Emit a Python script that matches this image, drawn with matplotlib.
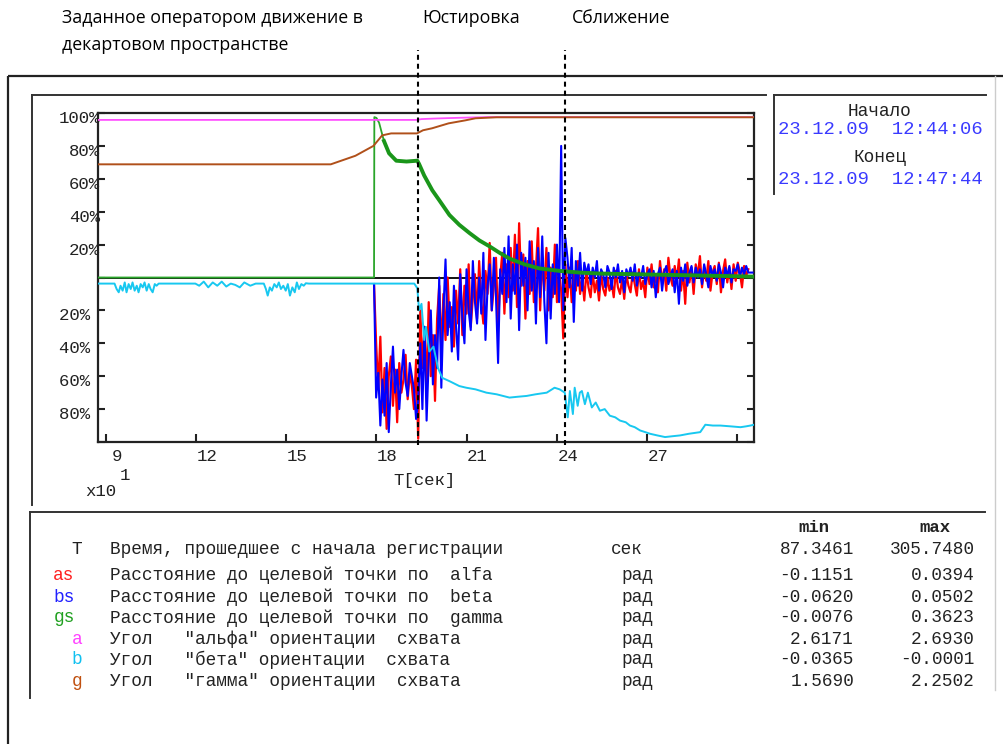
import numpy as np
import matplotlib
matplotlib.use('Agg')
import matplotlib.pyplot as plt
from matplotlib.transforms import ScaledTranslation

plt.rcParams['font.family'] = ['Liberation Mono', 'DejaVu Sans Mono']

# time is in units of 10 s (axis multiplier x10^1), values in % of range
t_min, t_max = 8.73, 30.57
phase_t = [19.37, 24.28]          # Юстировка / Сближение markers

x_ticks = [9, 12, 15, 18, 21, 24, 27, 30]
x_labels = ['9', '12', '15', '18', '21', '24', '27', '']
y_ticks = [100, 80, 60, 40, 20, 0, -20, -40, -60, -80, -100]
y_labels = ['100%', '80%', '60%', '40%', '20%', '',
            '20% ', '40% ', '60% ', '80% ', '']

# a - angle alfa (magenta)
a_t = [8.73, 19.35, 19.5, 19.9, 20.4, 21.0, 21.7, 30.57]
a_y = [95.8, 95.8, 96.3, 96.6, 96.9, 97.2, 97.5, 97.5]

# g - angle gamma (brown)
g_t = [8.73, 16.48, 17.3, 17.9, 18.19, 18.49, 19.35, 19.55, 19.85,
       20.4, 20.95, 21.3, 22.0, 30.57]
g_y = [68.8, 68.8, 74, 80, 86.4, 87.6, 87.6, 89.5, 90.7,
       93.7, 95.5, 96.8, 97.4, 97.4]

# gs - distance by gamma (green)
gs_t = [8.73, 17.92, 17.93, 18.0, 18.09, 18.25, 18.42, 18.66, 19.0, 19.36,
        19.42, 19.59, 19.86, 20.09, 20.43, 20.76, 21.10, 21.43, 21.76, 22.10,
        22.43, 22.93, 23.43, 24.10, 24.77, 25.44, 27.11, 28.78, 30.45, 30.57]
gs_y = [0, 0, 97.5, 97, 94, 83, 75.5, 71, 70.5, 71,
        69, 62, 53, 47, 38, 32, 27, 22.5, 19, 15,
        11.5, 8, 5.5, 4, 3, 2.4, 1.8, 1.2, 0.6, 0.5]

# b - angle beta (cyan)
b_t = ([8.73,
        9.28, 9.35, 9.42, 9.48, 9.55, 9.62, 9.68, 9.75, 9.82, 9.88, 9.95, 10.02,
        10.08, 10.15, 10.22, 10.28, 10.35, 10.42, 10.48, 10.55, 10.62, 10.68, 10.75,
        11.97, 12.1, 12.25, 12.4, 12.55, 12.7, 12.85, 13.0, 13.15, 13.3, 13.45,
        13.6, 13.8, 13.98,
        14.25, 14.32, 14.38, 14.45, 14.52, 14.6, 14.68, 14.75, 14.82, 14.9, 14.98,
        15.05, 15.12, 15.2, 15.28, 15.35, 15.42, 15.5, 15.58, 15.65, 15.75,
        19.26, 19.36, 19.42, 19.5, 19.59, 19.65, 19.76, 19.9, 20.05, 20.19,
        20.43, 20.76, 20.99, 21.3, 21.66, 22.0, 22.43, 22.7, 23.0, 23.3, 23.67,
        23.93, 24.1, 24.27, 24.37, 24.44, 24.54, 24.6, 24.7, 24.77, 24.84, 24.94,
        25.04, 25.17, 25.3, 25.44, 25.6, 25.77, 25.95, 26.11, 26.3, 26.44, 26.6,
        26.78, 26.95, 27.11, 27.35, 27.61, 27.85, 28.11, 28.4, 28.78, 28.95,
        29.2, 29.45, 29.8, 30.12, 30.3, 30.45, 30.57])
b_y = ([-3.7,
        -3.7, -7, -9, -5, -8, -3, -9, -4, -7, -3, -8, -5,
        -9, -4, -6, -3, -8, -4, -7, -9, -4, -5, -3.7,
        -3.7, -5, -2.5, -6, -3, -5, -2.5, -5.5, -3.7, -4.5, -6,
        -3, -5, -3.7,
        -3.7, -7, -11, -6, -8, -4, -6, -3, -7, -5, -8,
        -4, -11, -6, -9, -3, -7, -4, -5, -3.5, -3.7,
        -3.7, -6.5, -20, -16, -38, -30, -45, -42, -55, -61,
        -63, -66, -67, -68, -70, -71, -73, -72.5, -72, -71, -70,
        -67, -68, -70, -85, -69, -83, -67, -78, -70, -69, -77,
        -70, -79, -76, -81, -80, -84, -85, -87, -88, -90, -91,
        -93, -94, -95, -96, -97, -96.5, -96, -95, -94, -89.5,
        -90, -90, -90.5, -91, -90.5, -90, -89.5])

# as / bs - distances by alfa / beta (red / blue), sampled every 0.07 from 17.92
noise_t0, noise_dt = 17.92, 0.07
as_vals = ([-4] +
           [-40, -68, -36, -82, -55, -92, -60, -48, -78, -56, -88, -52, -70, -62,
            -47, -74, -58, -66, -80, -50, -98] +
           [-20, -55, -30, -70, -15, -60, -35, -75, -25, -5,
            -45, -10, -38, 0, -30, -18, -42, -8, -28, 5,
            -35, -5, -22, 8, -30, -12, 2, -25, 10, -15,
            -28, 4, -10, 21, -20, -5, 12, -30, 0, 15,
            -22, 8, -12, 18, -8, 26, -18, 33, -5, 14,
            -25, 10, -10, 22, -15, 5, 30, -20, 12, -8,
            18, -20, 6, -12, 20, -15, 4, -8, -37, 8] +
           [-12, 6, -15, 2, -8, 10, -10, 0, -14, 4,
            -6, -12, 3, -9, -2, -14, 2, -7, -11, 0,
            -8, -3, -12, 4, -6, -10, -1, -13, 2, -5,
            -9, 3, -4, -11, 5, -7, -2, -12, 6, -4,
            8, -6, 2, -9, 10, -3, 5, -8, 12, 0,
            -5, 7, -2, 11, -8, 4, -16, 9, -3, 6,
            -10, 8, 1, 13, -6, 5, -2, 10, -8, 3,
            7, -4, 9, -9, 4, 11, -3, 6, -7, 8,
            -2, 9, 3, -6, 7, 1, 5])
bs_vals = ([-4] +
           [-73, -58, -90, -62, -84, -52, -94, -66, -42, -70, -56, -80, -60, -44,
            -64, -72, -52, -60, -68, -86, -75] +
           [-40, -80, -30, -87, -50, -20, -65, -35, -55, 0,
            -67, -20, 11, -35, -15, -45, -5, -30, -50, 2,
            -25, -40, 5, -20, -32, 10, -15, -28, 0, -22,
            15, -38, -5, 8, -20, 12, -12, -52, 5, -10,
            18, -15, 25, -25, 8, -10, 20, -32, 15, -5,
            12, -20, 22, -8, 10, -28, 18, -12, 25, -15,
            -40, 15, -25, 8, -10, 20, -15, 80, -20, 24] +
           [12, -6, 18, -27, 10, -5, 15, -8, 9, 2,
            8, -4, 6, 0, 10, -8, 5, 2, -6, 7,
            3, -7, 6, 0, 8, -3, 4, -9, 5, 1,
            6, -2, 8, -5, 3, 0, 7, -4, 2, 5,
            -6, 4, -12, 2, 6, -8, 3, 7, -4, 1,
            5, -9, 4, -16, 6, -2, 8, -5, 3, 7,
            -3, 6, 0, 5, -4, 8, 2, -6, 7, 1,
            5, -2, 8, 3, -6, 6, 1, 7, -3, 5,
            4, 8, 0, 6, 2, 7, 3, 3, 3])

# legend table
codes = ['T', 'as', 'bs', 'gs', 'a', 'b', 'g']
code_colors = ['#202020', '#ff2020', '#2020ff', '#20a020', '#ff40ff', '#10c0f0', '#c05010']
descs = ['Время, прошедшее с начала регистрации',
         'Расстояние до целевой точки по  alfa',
         'Расстояние до целевой точки по  beta',
         'Расстояние до целевой точки по  gamma',
         'Угол   "альфа" ориентации  схвата',
         'Угол   "бета" ориентации  схвата',
         'Угол   "гамма" ориентации  схвата']
units = ['сек', 'рад', 'рад', 'рад', 'рад', 'рад', 'рад']
mins = [87.3461, -0.1151, -0.0620, -0.0076, 2.6171, -0.0365, 1.5690]
maxs = [305.7480, 0.0394, 0.0502, 0.3623, 2.6930, -0.0001, 2.2502]

start_date, end_date = '23.12.09  12:44:06', '23.12.09  12:47:44'

W, H = 1004, 744
fig = plt.figure(figsize=(W / 100, H / 100), dpi=100)

# overlay in pixel coordinates for frames and free text
ov = fig.add_axes([0, 0, 1, 1])
ov.set_xlim(0, W)
ov.set_ylim(H, 0)
ov.axis('off')

frame = dict(color='#222222', lw=1.6, solid_capstyle='butt')
ov.plot([8, 1004], [76, 76], **frame)
ov.plot([8, 8], [76, 744], **frame)
ov.plot([32, 766], [95, 95], color='#333333', lw=1.4)
ov.plot([32, 32], [95, 505], color='#333333', lw=1.4)
ov.plot([774, 986], [95, 95], color='#333333', lw=1.4)
ov.plot([774, 774], [95, 194], color='#333333', lw=1.4)
ov.plot([30, 985], [512, 512], color='#333333', lw=1.4)
ov.plot([30, 30], [512, 698], color='#333333', lw=1.4)
ov.plot([995, 995], [76, 690], color='#cccccc', lw=1.0)

sans = ['Open Sans', 'DejaVu Sans']
ov.text(62, 18, 'Заданное оператором движение в', family=sans, fontsize=12.8, va='center')
ov.text(62, 45, 'декартовом пространстве', family=sans, fontsize=12.8, va='center')
ov.text(422, 18, 'Юстировка', family=sans, fontsize=12.8, va='center')
ov.text(572, 18, 'Сближение', family=sans, fontsize=12.8, va='center')

# right info box
ov.text(880, 112, 'Начало', fontsize=12.8, color='#222222', ha='center', va='center')
ov.text(778, 130, start_date, fontsize=13.6, color='#3a3aff', ha='left', va='center')
ov.text(880, 158, 'Конец', fontsize=12.8, color='#222222', ha='center', va='center')
ov.text(778, 180, end_date, fontsize=13.6, color='#3a3aff', ha='left', va='center')

# axis labels
ov.text(425, 480, 'T[сек]', fontsize=12.5, color='#222222', ha='center', va='center')
ov.text(85, 491, 'x10', fontsize=12.5, color='#222222', ha='left', va='center')
ov.text(120, 475, '1', fontsize=12.5, color='#222222', ha='left', va='center')

# legend table
row_y = [549, 575, 597, 618, 639, 660, 681]
code_x = [77, 64, 64, 64, 77, 77, 77]
unit_x = [611, 621, 621, 621, 621, 621, 621]
ov.text(814, 527, 'min', fontsize=12.5, weight='bold', color='#222222', ha='center', va='center')
ov.text(935, 527, 'max', fontsize=12.5, weight='bold', color='#222222', ha='center', va='center')
for i in range(len(codes)):
    ov.text(code_x[i], row_y[i], codes[i], fontsize=12.8, color=code_colors[i], ha='center', va='center')
    ov.text(110, row_y[i], descs[i], fontsize=12.8, color='#222222', ha='left', va='center')
    ov.text(unit_x[i], row_y[i], units[i], fontsize=12.8, color='#222222', ha='left', va='center')
    ov.text(854, row_y[i], f'{mins[i]:.4f}', fontsize=12.8, color='#222222', ha='right', va='center')
    ov.text(975, row_y[i], f'{maxs[i]:.4f}', fontsize=12.8, color='#222222', ha='right', va='center')

# main plot
ax = fig.add_axes([98 / W, 1 - 442 / H, (754 - 98) / W, (442 - 113) / H])
ax.set_xlim(t_min, t_max)
ax.set_ylim(-100, 100)

ax.axhline(0, color='black', lw=1.3, zorder=1)

as_t = noise_t0 + noise_dt * np.arange(len(as_vals))
bs_t = noise_t0 + noise_dt * np.arange(len(bs_vals))
ax.plot(as_t, as_vals, color='#ff0000', lw=1.6, zorder=2)
ax.plot(bs_t, bs_vals, color='#0000ff', lw=1.5, zorder=3)

gs_t = np.array(gs_t)
gs_y = np.array(gs_y)
ax.plot(gs_t, gs_y, color='#2aa52a', lw=1.3, zorder=4)
thick = gs_t >= 18.2
ax.plot(gs_t[thick], gs_y[thick], color='#1a961a', lw=2.8, zorder=4)

ax.plot(b_t, b_y, color='#18c8f0', lw=1.4, zorder=5)
ax.plot(a_t, a_y, color='#ff50ff', lw=1.3, zorder=6)
ax.plot(g_t, g_y, color='#b0501a', lw=1.4, zorder=7)

for pt in phase_t:
    ax.axvline(pt, ymin=-0.01, ymax=1.19, color='black', lw=1.5,
               linestyle=(0, (2.4, 1.9)), clip_on=False, zorder=10)

ax.set_xticks(x_ticks)
ax.set_xticklabels(x_labels)
ax.set_yticks(y_ticks)
ax.set_yticklabels(y_labels)
ax.tick_params(axis='x', direction='in', length=6, width=1.5, pad=5,
               labelsize=12.5, colors='#222222')
ax.tick_params(axis='y', direction='in', length=5, width=1.5, pad=-1.5,
               labelsize=12.5, colors='#222222', right=True)
for lab in ax.get_xticklabels():
    lab.set_transform(lab.get_transform() + ScaledTranslation(0.11, 0, fig.dpi_scale_trans))
for lab in ax.get_yticklabels():
    lab.set_transform(lab.get_transform() + ScaledTranslation(0, -0.04, fig.dpi_scale_trans))
for sp in ax.spines.values():
    sp.set_linewidth(1.6)
    sp.set_color('#222222')

fig.savefig('out.png', dpi=100)
